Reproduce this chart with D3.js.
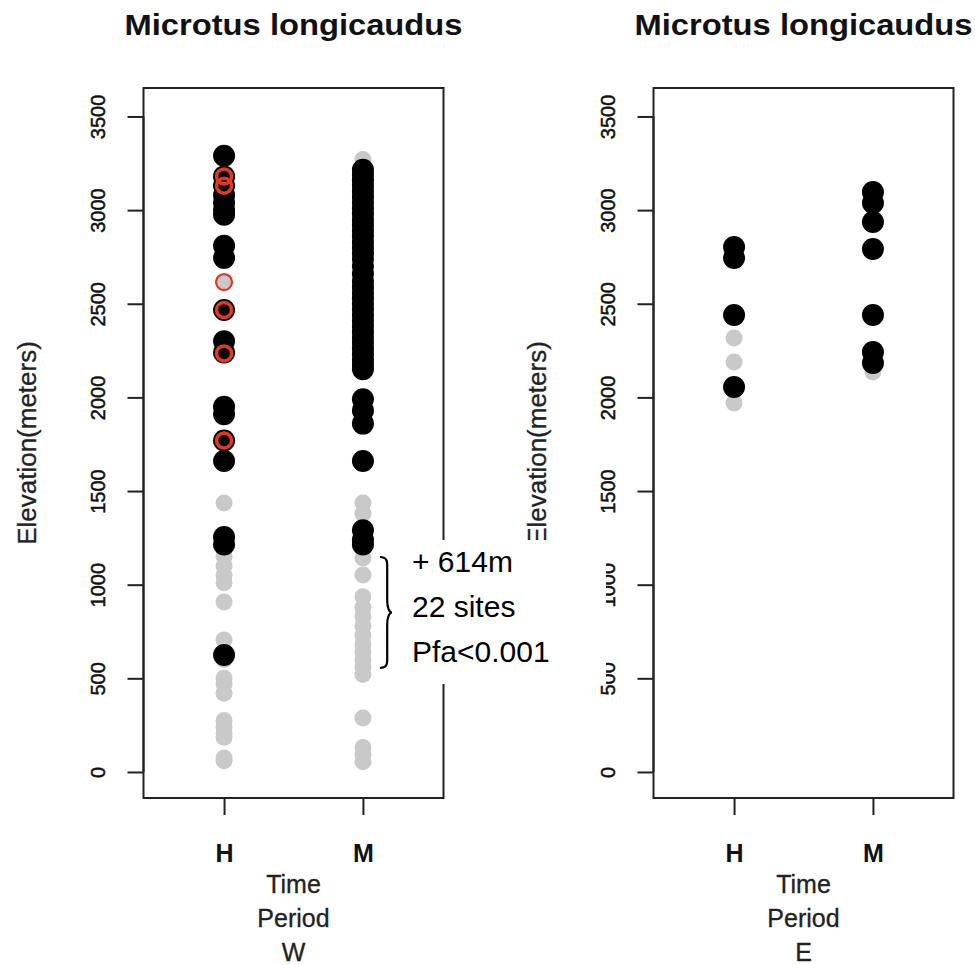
<!DOCTYPE html>
<html>
<head>
<meta charset="utf-8">
<script src="https://cdn.jsdelivr.net/npm/d3@7"></script>
<style>
  html, body { margin: 0; padding: 0; background: #fff; }
  svg { display: block; font-family: "Liberation Sans", Arial, Helvetica, sans-serif; }
</style>
</head>
<body>
<svg id="chart" width="975" height="965"></svg>
<script>
// ---------------- data ----------------
const periods = ["H", "M"];
const yTicks = [0, 500, 1000, 1500, 2000, 2500, 3000, 3500];
const chartTitle = "Microtus longicaudus";
const yTitle = "Elevation(meters)";
const xTitleLines = ["Time", "Period"];
const panelNames = ["W", "E"];

// West panel (W)
const W_H_grey  = [1436, 1150, 1100, 1050, 1010, 908, 705, 600, 500, 470, 420, 275, 240, 210, 185, 75, 60];
const W_H_black = [3290, 3180, 3130, 3080, 3040, 3000, 2975, 2810, 2745, 2467, 2300, 2240, 1950, 1910, 1770, 1660, 1255, 1215, 625];
const W_H_red   = [3180, 3130, 2467, 2235, 1770];
const W_H_greyRed = [2616];
const W_M_grey  = [3270, 1436, 1380, 1143, 1052, 935, 880, 830, 780, 730, 680, 640, 600, 560, 520, 288, 130, 90, 55];
const W_M_black = [3215, 3190, 3160, 3130, 3100, 3070, 3040, 3010, 2980, 2950, 2920, 2890, 2860, 2830, 2800, 2770,
                   2740, 2700, 2660, 2620, 2590, 2560, 2530, 2500, 2470, 2440, 2410, 2380, 2350, 2320, 2290, 2260,
                   2230, 2200, 2175, 2150, 1990, 1930, 1860, 1660, 1290, 1240, 1215];

// East panel (E)
const E_H_grey  = [2317, 2189, 1970];
const E_H_black = [2803, 2744, 2440, 2055];
const E_M_grey  = [2136];
const E_M_black = [3097, 3038, 2936, 2792, 2440, 2242, 2184];

// annotation
const noteLines = ["+ 614m", "22 sites", "Pfa<0.001"];

// ---------------- layout ----------------
const svg = d3.select("#chart");
const plotTop = 88, plotBottom = 798;
const panels = [
  { name: panelNames[0], x0: 143.5, x1: 443.5,
    grey: { H: W_H_grey, M: W_M_grey }, black: { H: W_H_black, M: W_M_black },
    red: { H: W_H_red, M: [] }, greyRed: { H: W_H_greyRed, M: [] } },
  { name: panelNames[1], x0: 653.5, x1: 953.5,
    grey: { H: E_H_grey, M: E_M_grey }, black: { H: E_H_black, M: E_M_black },
    red: { H: [], M: [] }, greyRed: { H: [], M: [] } }
];

const y = d3.scaleLinear().domain([-139, 3652]).range([plotBottom, plotTop]);
const txtCol = "#111";

panels.forEach(p => {
  const x = d3.scaleLinear().domain([0.42, 2.58]).range([p.x0, p.x1]);
  const xp = k => x(periods.indexOf(k) + 1);
  const g = svg.append("g");

  // points: grey, then black, then red rings
  periods.forEach(k => {
    g.selectAll(null).data(p.grey[k]).join("circle")
      .attr("cx", xp(k)).attr("cy", d => y(d)).attr("r", 8.5).attr("fill", "#c9c9c9");
    g.selectAll(null).data(p.greyRed[k]).join("circle")
      .attr("cx", xp(k)).attr("cy", d => y(d)).attr("r", 8).attr("fill", "#c9c9c9")
      .attr("stroke", "#e23a22").attr("stroke-width", 2.2);
  });
  periods.forEach(k => {
    g.selectAll(null).data(p.black[k]).join("circle")
      .attr("cx", xp(k)).attr("cy", d => y(d)).attr("r", 11).attr("fill", "#000");
  });
  periods.forEach(k => {
    g.selectAll(null).data(p.red[k]).join("circle")
      .attr("cx", xp(k)).attr("cy", d => y(d)).attr("r", 7.5).attr("fill", "none")
      .attr("stroke", "#e23a22").attr("stroke-width", 3.5);
  });

  // box
  g.append("rect").attr("x", p.x0).attr("y", plotTop)
    .attr("width", p.x1 - p.x0).attr("height", plotBottom - plotTop)
    .attr("fill", "none").attr("stroke", "#222").attr("stroke-width", 2);

  // y axis
  const ya = d3.axisLeft(y).tickValues(yTicks).tickSize(16).tickFormat(d3.format("d"));
  const yg = g.append("g").attr("transform", `translate(${p.x0},0)`).call(ya);
  yg.select(".domain").attr("stroke", "#222").attr("stroke-width", 2)
    .attr("d", `M0,${y(0)}V${y(3500)}`);
  yg.selectAll(".tick line").attr("stroke", "#222").attr("stroke-width", 2);
  yg.selectAll(".tick text")
    .attr("x", null).attr("dy", null)
    .attr("transform", "translate(-39,0) rotate(-90)")
    .attr("text-anchor", "middle")
    .attr("font-size", 20).attr("font-family", "Liberation Sans, Arial, sans-serif")
    .attr("fill", txtCol).attr("stroke", txtCol).attr("stroke-width", 0.5);

  // x axis
  const xa = d3.axisBottom(x).tickValues([1, 2]).tickSize(17).tickFormat(d => periods[d - 1]);
  const xg = g.append("g").attr("transform", `translate(0,${plotBottom})`).call(xa);
  xg.select(".domain").attr("stroke", "#222").attr("stroke-width", 2)
    .attr("d", `M${x(1)},0H${x(2)}`);
  xg.selectAll(".tick line").attr("stroke", "#222").attr("stroke-width", 2);
  xg.selectAll(".tick text").attr("y", 64).attr("dy", null)
    .attr("font-size", 25).attr("font-weight", "bold")
    .attr("font-family", "Liberation Sans, Arial, sans-serif").attr("fill", txtCol);

  const cx = (p.x0 + p.x1) / 2;
  // title
  g.append("text").attr("x", cx).attr("y", 35).attr("text-anchor", "middle")
    .attr("font-size", 29).attr("font-weight", "bold").attr("fill", txtCol)
    .attr("textLength", 338).attr("lengthAdjust", "spacingAndGlyphs")
    .text(chartTitle);

  // x title lines
  xTitleLines.concat([p.name]).forEach((t, i) => {
    g.append("text").attr("x", cx).attr("y", 893 + i * 34).attr("text-anchor", "middle")
      .attr("font-size", 25).attr("fill", "#222").attr("stroke", "#222").attr("stroke-width", 0.3).text(t);
  });

  // y title
  const ycy = (plotTop + plotBottom) / 2;
  g.append("text").attr("transform", `translate(${p.x0 - 108},${ycy}) rotate(-90)`)
    .attr("text-anchor", "middle").attr("font-size", 26).attr("fill", "#222")
    .attr("stroke", "#222").attr("stroke-width", 0.3).text(yTitle);
});

// ---------------- annotation (overlay) ----------------
const ann = svg.append("g");
ann.append("rect").attr("x", 375).attr("y", 540).attr("width", 231).attr("height", 144).attr("fill", "#fff");
const bx = 380, bTop = 557, bBot = 668, bMid = (557 + 668) / 2, bw = 12;
ann.append("path")
  .attr("d", `M${bx},${bTop} C${bx + bw * 0.7},${bTop} ${bx + bw * 0.6},${bTop + 6} ${bx + bw * 0.6},${bTop + 14}
              L${bx + bw * 0.6},${bMid - 12} C${bx + bw * 0.6},${bMid - 4} ${bx + bw * 0.8},${bMid} ${bx + bw},${bMid}
              C${bx + bw * 0.8},${bMid} ${bx + bw * 0.6},${bMid + 4} ${bx + bw * 0.6},${bMid + 12}
              L${bx + bw * 0.6},${bBot - 14} C${bx + bw * 0.6},${bBot - 6} ${bx + bw * 0.7},${bBot} ${bx},${bBot}`)
  .attr("fill", "none").attr("stroke", "#000").attr("stroke-width", 2.2);
noteLines.forEach((t, i) => {
  ann.append("text").attr("x", 412).attr("y", 572 + i * 45)
    .attr("font-size", 30).attr("fill", "#000").text(t);
});
</script>
</body>
</html>
